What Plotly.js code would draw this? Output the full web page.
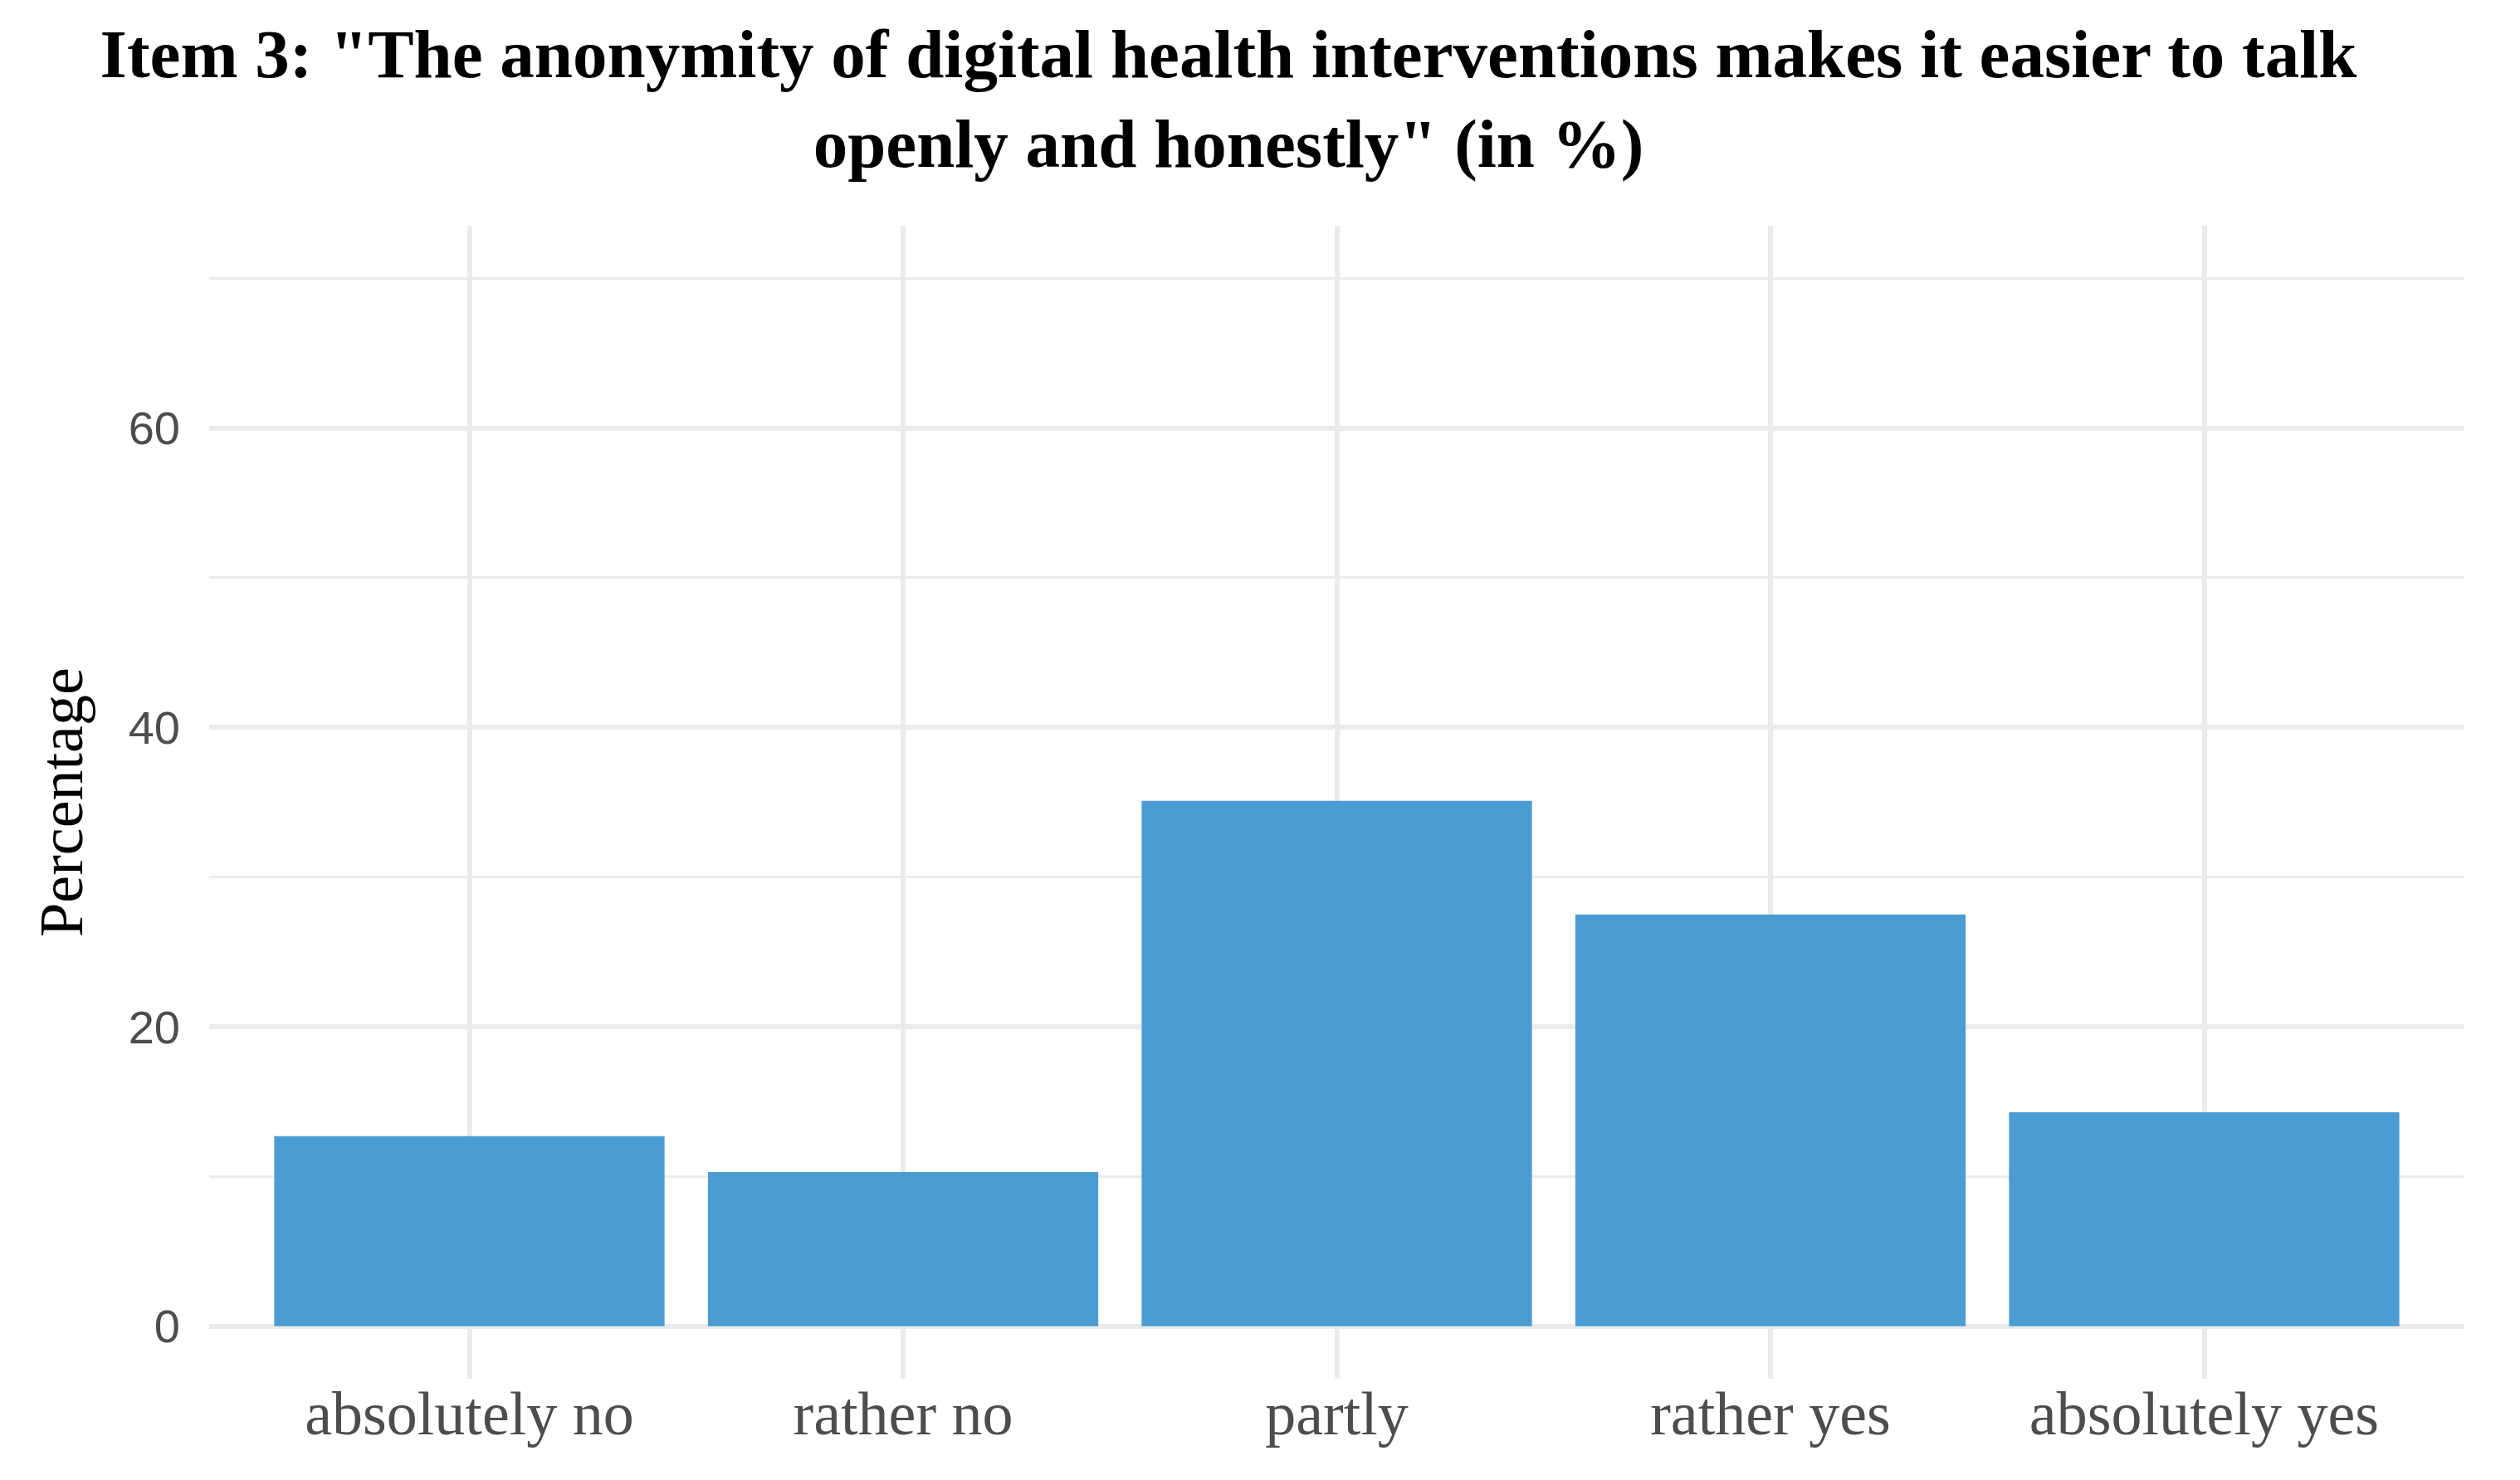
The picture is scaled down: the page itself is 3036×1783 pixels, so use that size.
<!DOCTYPE html>
<html>
<head>
<meta charset="utf-8">
<script src="https://cdn.plot.ly/plotly-3.0.1.min.js"></script>
<style>
  html, body { margin: 0; padding: 0; background: #fff; }
  #chart { width: 3036px; height: 1783px; }
</style>
</head>
<body>
<div id="chart"></div>
<script>
// answer categories and share of respondents (in %)
var categories = ['absolutely no', 'rather no', 'partly', 'rather yes', 'absolutely yes']
var percentages = [12.7, 10.3, 35.1, 27.5, 14.3]
var yTicks = [0, 20, 40, 60]

var serif = '"Liberation Serif", "DejaVu Serif", serif'
var sans = '"Liberation Sans", Arial, sans-serif'

var trace = {
    x: categories,
    y: percentages,
    type: 'bar',
    marker: { color: '#4B9CD3' },
    hoverinfo: 'x+y'
}

var layout = {
    width: 3036,
    height: 1783,
    paper_bgcolor: '#ffffff',
    plot_bgcolor: '#ffffff',
    showlegend: false,
    bargap: 0.1,
    margin: { l: 252, r: 67, t: 272, b: 122, pad: 0 },
    title: {
        text: '<b>Item 3: "The anonymity of digital health interventions makes it easier to talk<br>openly and honestly" (in %)</b>',
        font: { family: serif, size: 83, color: '#000000' },
        xref: 'container', x: 0.4875, xanchor: 'center',
        yref: 'container', y: 0.948, yanchor: 'top'
    },
    xaxis: {
        type: 'category',
        range: [-0.6, 4.6],
        showgrid: true,
        gridcolor: '#EBEBEB',
        gridwidth: 6,
        zeroline: false,
        showline: false,
        ticks: '',
        ticklabelstandoff: -8,
        tickfont: { family: serif, size: 74, color: '#4D4D4D' }
    },
    yaxis: {
        range: [-3.5, 73.5],
        tickvals: yTicks,
        ticktext: yTicks.map(String),
        showgrid: true,
        gridcolor: '#EBEBEB',
        gridwidth: 6,
        zeroline: false,
        showline: false,
        ticks: '',
        ticklabelstandoff: 34,
        tickfont: { family: sans, size: 56, color: '#4D4D4D' },
        minor: { dtick: 10, tick0: 0, showgrid: true, gridcolor: '#EBEBEB', gridwidth: 3 },
        title: {
            text: 'Percentage',
            font: { family: serif, size: 74, color: '#000000' },
            standoff: 30
        },
        automargin: false
    }
}

Plotly.newPlot('chart', [trace], layout, { displayModeBar: false, staticPlot: true })
</script>
</body>
</html>
